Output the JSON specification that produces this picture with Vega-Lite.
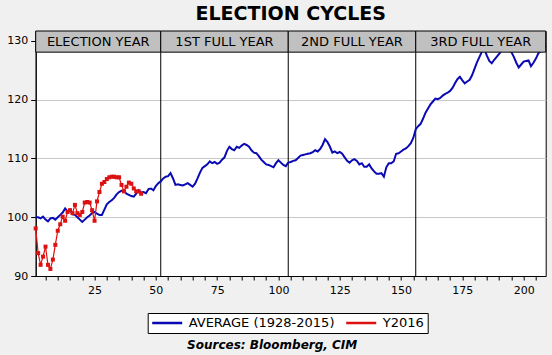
{
  "$schema": "https://vega.github.io/schema/vega-lite/v6.json",
  "width": 510,
  "height": 245,
  "autosize": {"type": "none"},
  "padding": {"left": 35.7, "top": 31, "right": 6.3, "bottom": 79},
  "background": "#f0f0f0",
  "title": {"text": "ELECTION CYCLES", "font": "DejaVu Sans", "fontSize": 19, "fontWeight": "bold", "color": "black", "anchor": "middle", "offset": 0, "dy": 8, "baseline": "alphabetic"},
  "config": {
    "view": {"fill": "white", "stroke": "black", "strokeWidth": 1},
    "axis": {"labelFont": "DejaVu Sans", "labelFontSize": 11, "labelColor": "black", "domainColor": "black", "tickColor": "black", "tickSize": 4, "labelPadding": 3}
  },
  "datasets": {
    "avg": [
      {"week":1,"value":100.0},{"week":2,"value":100.0},{"week":3,"value":99.8},{"week":4,"value":100.1},{"week":5,"value":99.6},{"week":6,"value":99.3},{"week":7,"value":99.8},{"week":8,"value":99.9},{"week":9,"value":99.6},{"week":10,"value":100.0},
      {"week":11,"value":100.4},{"week":12,"value":100.8},{"week":13,"value":101.5},{"week":14,"value":101.0},{"week":15,"value":101.3},{"week":16,"value":100.5},{"week":17,"value":100.4},{"week":18,"value":100.0},{"week":19,"value":99.6},{"week":20,"value":99.2},
      {"week":21,"value":99.6},{"week":22,"value":100.0},{"week":23,"value":100.3},{"week":24,"value":100.7},{"week":25,"value":100.9},{"week":26,"value":100.6},{"week":27,"value":100.4},{"week":28,"value":100.4},{"week":29,"value":101.3},{"week":30,"value":102.2},
      {"week":31,"value":102.6},{"week":32,"value":102.9},{"week":33,"value":103.3},{"week":34,"value":103.9},{"week":35,"value":104.3},{"week":36,"value":104.5},{"week":37,"value":104.6},{"week":38,"value":104.0},{"week":39,"value":103.8},{"week":40,"value":103.6},
      {"week":41,"value":103.5},{"week":42,"value":104.0},{"week":43,"value":104.6},{"week":44,"value":104.2},{"week":45,"value":104.3},{"week":46,"value":104.1},{"week":47,"value":104.8},{"week":48,"value":104.9},{"week":49,"value":104.6},{"week":50,"value":105.3},
      {"week":51,"value":105.8},{"week":52,"value":106.1},{"week":53,"value":106.6},{"week":54,"value":106.9},{"week":55,"value":107.0},{"week":56,"value":107.5},{"week":57,"value":106.6},{"week":58,"value":105.5},{"week":59,"value":105.6},{"week":60,"value":105.5},
      {"week":61,"value":105.4},{"week":62,"value":105.6},{"week":63,"value":105.8},{"week":64,"value":105.5},{"week":65,"value":105.2},{"week":66,"value":105.7},{"week":67,"value":106.6},{"week":68,"value":107.6},{"week":69,"value":108.4},{"week":70,"value":108.7},
      {"week":71,"value":109.0},{"week":72,"value":109.5},{"week":73,"value":109.2},{"week":74,"value":109.4},{"week":75,"value":109.1},{"week":76,"value":109.3},{"week":77,"value":109.8},{"week":78,"value":110.2},{"week":79,"value":111.3},{"week":80,"value":112.0},
      {"week":81,"value":111.6},{"week":82,"value":111.4},{"week":83,"value":112.0},{"week":84,"value":111.8},{"week":85,"value":112.2},{"week":86,"value":112.5},{"week":87,"value":112.3},{"week":88,"value":112.0},{"week":89,"value":111.4},{"week":90,"value":111.0},
      {"week":91,"value":110.9},{"week":92,"value":110.4},{"week":93,"value":109.8},{"week":94,"value":109.4},{"week":95,"value":109.0},{"week":96,"value":108.9},{"week":97,"value":108.7},{"week":98,"value":108.5},{"week":99,"value":109.2},{"week":100,"value":109.7},
      {"week":101,"value":109.3},{"week":102,"value":108.9},{"week":103,"value":108.7},{"week":104,"value":109.3},{"week":105,"value":109.4},{"week":106,"value":109.6},{"week":107,"value":109.7},{"week":108,"value":110.1},{"week":109,"value":110.5},{"week":110,"value":110.6},
      {"week":111,"value":110.7},{"week":112,"value":110.8},{"week":113,"value":110.9},{"week":114,"value":111.1},{"week":115,"value":111.4},{"week":116,"value":111.2},{"week":117,"value":111.6},{"week":118,"value":112.3},{"week":119,"value":113.3},{"week":120,"value":112.8},
      {"week":121,"value":112.0},{"week":122,"value":111.0},{"week":123,"value":111.2},{"week":124,"value":110.9},{"week":125,"value":111.1},{"week":126,"value":110.8},{"week":127,"value":110.2},{"week":128,"value":109.6},{"week":129,"value":109.3},{"week":130,"value":109.7},
      {"week":131,"value":109.9},{"week":132,"value":109.6},{"week":133,"value":109.0},{"week":134,"value":109.2},{"week":135,"value":108.6},{"week":136,"value":108.6},{"week":137,"value":109.0},{"week":138,"value":108.3},{"week":139,"value":107.8},{"week":140,"value":107.4},
      {"week":141,"value":107.4},{"week":142,"value":107.5},{"week":143,"value":106.9},{"week":144,"value":108.5},{"week":145,"value":109.2},{"week":146,"value":109.2},{"week":147,"value":109.5},{"week":148,"value":110.8},{"week":149,"value":110.9},{"week":150,"value":111.2},
      {"week":151,"value":111.5},{"week":152,"value":111.7},{"week":153,"value":112.1},{"week":154,"value":112.6},{"week":155,"value":113.5},{"week":156,"value":115.0},{"week":157,"value":115.5},{"week":158,"value":115.9},{"week":159,"value":116.8},{"week":160,"value":117.8},
      {"week":161,"value":118.5},{"week":162,"value":119.2},{"week":163,"value":119.7},{"week":164,"value":120.2},{"week":165,"value":120.1},{"week":166,"value":120.3},{"week":167,"value":120.7},{"week":168,"value":121.0},{"week":169,"value":121.2},{"week":170,"value":121.5},
      {"week":171,"value":122.0},{"week":172,"value":122.8},{"week":173,"value":123.5},{"week":174,"value":123.9},{"week":175,"value":123.3},{"week":176,"value":122.8},{"week":177,"value":123.1},{"week":178,"value":123.4},{"week":179,"value":124.2},{"week":180,"value":125.3},
      {"week":181,"value":126.4},{"week":182,"value":127.3},{"week":183,"value":128.2},{"week":184,"value":128.6},{"week":185,"value":127.5},{"week":186,"value":126.6},{"week":187,"value":126.2},{"week":188,"value":126.8},{"week":189,"value":127.3},{"week":190,"value":127.8},
      {"week":191,"value":128.3},{"week":192,"value":128.5},{"week":193,"value":128.5},{"week":194,"value":128.4},{"week":195,"value":128.1},{"week":196,"value":127.3},{"week":197,"value":126.3},{"week":198,"value":125.5},{"week":199,"value":126.0},{"week":200,"value":126.5},
      {"week":201,"value":126.6},{"week":202,"value":126.7},{"week":203,"value":125.7},{"week":204,"value":126.3},{"week":205,"value":127.0},{"week":206,"value":127.9},{"week":207,"value":128.3},{"week":208,"value":128.8},{"week":209,"value":129.2}
    ],
    "y2016": [
      {"week":1,"value":98.1},{"week":2,"value":93.9},{"week":3,"value":91.9},{"week":4,"value":93.3},{"week":5,"value":95.0},{"week":6,"value":91.9},{"week":7,"value":91.2},{"week":8,"value":92.8},{"week":9,"value":95.3},{"week":10,"value":97.7},
      {"week":11,"value":98.8},{"week":12,"value":100.1},{"week":13,"value":99.4},{"week":14,"value":100.9},{"week":15,"value":101.2},{"week":16,"value":100.7},{"week":17,"value":102.1},{"week":18,"value":100.7},{"week":19,"value":100.4},{"week":20,"value":100.9},
      {"week":21,"value":102.5},{"week":22,"value":102.6},{"week":23,"value":102.5},{"week":24,"value":101.2},{"week":25,"value":99.4},{"week":26,"value":102.7},{"week":27,"value":104.3},{"week":28,"value":105.7},{"week":29,"value":106.0},{"week":30,"value":106.5},
      {"week":31,"value":106.8},{"week":32,"value":106.9},{"week":33,"value":106.9},{"week":34,"value":106.8},{"week":35,"value":106.8},{"week":36,"value":105.5},{"week":37,"value":104.4},{"week":38,"value":105.2},{"week":39,"value":105.9},{"week":40,"value":105.7},
      {"week":41,"value":104.9},{"week":42,"value":104.4},{"week":43,"value":104.4},{"week":44,"value":104.0}
    ],
    "years": [
      {"start":1,"end":52,"label":"ELECTION YEAR"},
      {"start":52,"end":104,"label":"1ST FULL YEAR"},
      {"start":104,"end":156,"label":"2ND FULL YEAR"},
      {"start":156,"end":209,"label":"3RD FULL YEAR"}
    ]
  },
  "encoding": {
    "x": {"type": "quantitative", "scale": {"domain": [1, 209], "nice": false, "zero": false},
      "axis": {"values": [5,10,15,20,25,30,35,40,45,50,55,60,65,70,75,80,85,90,95,100,105,110,115,120,125,130,135,140,145,150,155,160,165,170,175,180,185,190,195,200,205],
        "labelExpr": "datum.value % 25 === 0 ? datum.label : ''", "labelOverlap": false, "grid": false, "labelPadding": 4,
        "title": "Sources:  Bloomberg, CIM", "titleFont": "DejaVu Sans", "titleFontSize": 12, "titleFontWeight": "bold", "titleFontStyle": "italic", "titleColor": "black",
        "titleX": 236, "titleY": 72, "titleAlign": "center", "titleBaseline": "alphabetic"}},
    "y": {"type": "quantitative", "scale": {"domain": [90, 131.7], "nice": false, "zero": false},
      "axis": {"values": [90, 100, 110, 120, 130], "grid": true, "gridColor": "#c8c8c8", "gridWidth": 1, "title": null, "tickSize": 5}}
  },
  "layer": [
    {
      "data": {"name": "years"},
      "transform": [{"filter": "datum.start > 1"}],
      "mark": {"type": "rule", "color": "black", "strokeWidth": 1},
      "encoding": {"x": {"field": "start"}, "y": {"datum": 90}, "y2": {"datum": 128.1}}
    },
    {
      "data": {"name": "avg"},
      "mark": {"type": "line", "strokeWidth": 2},
      "encoding": {"x": {"field": "week"}, "y": {"field": "value"},
        "color": {"datum": "AVERAGE (1928-2015)", "type": "nominal",
          "scale": {"domain": ["AVERAGE (1928-2015)", "Y2016"], "range": ["#0a0ab4", "#dd1111"]},
          "legend": {"title": null, "orient": "none", "legendX": 112, "legendY": 282, "direction": "horizontal",
            "strokeColor": "black", "fillColor": "white", "padding": 3, "labelFont": "DejaVu Sans", "labelFontSize": 13, "labelColor": "black",
            "symbolType": "stroke", "symbolSize": 900, "symbolStrokeWidth": 2.5, "columnPadding": 10, "labelOffset": 5, "clipHeight": 14}}}
    },
    {
      "data": {"name": "y2016"},
      "mark": {"type": "line", "strokeWidth": 1.2},
      "encoding": {"x": {"field": "week"}, "y": {"field": "value"}, "color": {"datum": "Y2016", "type": "nominal"}}
    },
    {
      "data": {"name": "y2016"},
      "mark": {"type": "point", "shape": "square", "filled": true, "size": 16, "color": "#dd1111", "opacity": 1},
      "encoding": {"x": {"field": "week"}, "y": {"field": "value"}}
    },
    {
      "data": {"name": "years"},
      "mark": {"type": "rect", "fill": "#c0c0c0", "stroke": "black", "strokeWidth": 1},
      "encoding": {"x": {"field": "start"}, "x2": {"field": "end"}, "y": {"datum": 128.1}, "y2": {"datum": 131.7}}
    },
    {
      "data": {"name": "years"},
      "transform": [{"calculate": "(datum.start + datum.end) / 2", "as": "mid"}],
      "mark": {"type": "text", "font": "DejaVu Sans", "fontSize": 13, "color": "black", "baseline": "middle", "align": "center"},
      "encoding": {"x": {"field": "mid"}, "y": {"datum": 129.9}, "text": {"field": "label"}}
    }
  ]
}
